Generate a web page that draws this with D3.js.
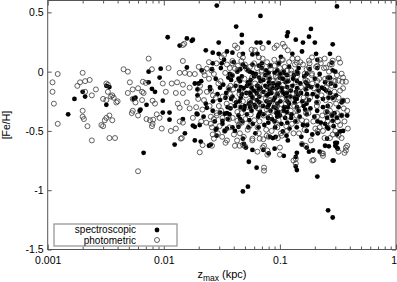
<!DOCTYPE html>
<html><head><meta charset="utf-8">
<script src="https://cdn.jsdelivr.net/npm/d3@7"></script>
<style>
body{margin:0;background:#fff}
svg{display:block}
text{font-family:"Liberation Sans",Arial,Helvetica,sans-serif;fill:#000}
</style>
</head><body>
<svg id="chart" width="397" height="282"></svg>
<script>
const xTicks = [0.001, 0.01, 0.1, 1];
const xTickLabels = ["0.001", "0.01", "0.1", "1"];
const yTicks = [0.5, 0, -0.5, -1, -1.5];
const yTickLabels = ["0.5", "0", "-0.5", "-1", "-1.5"];
const seriesNames = ["spectroscopic", "photometric"];

// [z_max (kpc), [Fe/H]]
const spectroscopic = [
[0.0017,-0.23],[0.002,-0.17],[0.0021,-0.21],[0.0015,-0.36],[0.0032,-0.28],[0.0032,-0.12],[0.0034,-0.13],[0.0055,-0.23],[0.0057,-0.22],[0.0062,-0.33],
[0.0108,0.29],[0.0137,0.22],[0.0158,0.28],[0.0174,0.26],[0.0178,0.27],[0.0297,0.245],[0.023,0.18],[0.0264,0.16],[0.0297,0.15],[0.035,0.17],
[0.0074,0.0],[0.0094,0.025],[0.0158,0.035],[0.0212,0.01],[0.0264,0.07],[0.0315,0.07],[0.0092,-0.05],[0.0074,-0.09],[0.02,-0.1],[0.0185,-0.1],
[0.0079,-0.145],[0.0084,-0.17],[0.025,-0.15],[0.0195,-0.15],[0.0305,-0.135],
[0.0071,-0.28],[0.0098,-0.245],[0.0063,-0.32],[0.0112,-0.405],[0.0098,-0.345],[0.0112,-0.345],[0.0146,-0.4],[0.0152,-0.52],[0.0124,-0.615],[0.0067,-0.685],
[0.0178,-0.455],[0.0185,-0.465],[0.0204,-0.45],[0.0185,-0.58],[0.0208,-0.59],[0.0245,-0.625],[0.0254,-0.615],[0.028,-0.49],[0.0285,-0.54],
[0.0192,-0.355],[0.0195,-0.36],[0.0235,-0.305],[0.0264,-0.33],[0.0305,-0.345],[0.0335,-0.355],[0.032,-0.415],[0.0355,-0.4],[0.0285,-0.48],[0.0335,-0.5],[0.035,-0.48],
[0.049,-0.61],[0.058,-0.66],[0.054,-0.76],[0.063,-0.81],[0.053,-0.97],[0.048,-1.01],[0.08,-0.69],[0.072,-0.66],[0.108,-0.71],[0.137,-0.72],[0.14,-0.685],
[0.137,-0.8],[0.14,-0.83],[0.21,-0.885],[0.26,-1.17],[0.285,-1.23],[0.29,-0.75],[0.22,-0.675],[0.193,-0.665],[0.178,-0.675],[0.155,-0.615],[0.17,-0.64],
[0.264,-0.63],[0.31,-0.64],[0.31,-0.6],
[0.039,-0.47],[0.044,-0.465],[0.051,-0.64],[0.048,-0.565],[0.09,-0.65],[0.117,-0.58],[0.106,-0.505],[0.114,-0.54],[0.082,-0.55],[0.087,-0.56],[0.092,-0.55],
[0.285,0.23],[0.27,0.15],[0.28,0.076],[0.285,0.01],[0.27,-0.05],[0.275,-0.1],[0.24,-0.145],[0.23,-0.135],[0.25,-0.16],
[0.235,-0.23],[0.285,-0.22],[0.34,-0.26],[0.35,-0.245],[0.31,-0.39],[0.285,-0.415],[0.28,-0.37],[0.255,-0.39],[0.34,-0.37],[0.38,-0.37],
[0.255,-0.47],[0.245,-0.44],[0.33,-0.505],[0.35,-0.5],[0.255,-0.565],[0.245,-0.625],[0.3,-0.6],[0.3,-0.625],[0.315,-0.65],[0.285,-0.75],
[0.0286,0.557],[0.31,0.55],[0.068,0.47],[0.042,0.38],[0.047,0.31],[0.047,0.245],[0.063,0.245],[0.068,0.245],[0.08,0.245],[0.117,0.33],[0.115,0.3],
[0.137,0.27],[0.185,0.36],[0.178,0.295],[0.155,0.17],[0.2,0.245],[0.102,0.125],[0.039,0.16],[0.048,0.15],[0.058,0.145],[0.064,0.15],[0.07,0.07],
[0.128,0.15],[0.205,0.15],[0.21,0.1],[0.048,0.06],[0.053,0.01],[0.058,-0.01],[0.076,0.01],[0.1,-0.017],[0.108,-0.01],[0.142,-0.017],[0.167,-0.09],
[0.039,-0.034],[0.057,-0.135],[0.064,-0.12],[0.082,-0.1],[0.158,0.245],
[0.021,-0.08],[0.0195,-0.2],[0.023,-0.27],[0.022,-0.38],
[0.026,0.02],[0.028,-0.06],[0.025,-0.13],[0.029,-0.19],[0.0265,-0.25],[0.0275,-0.42],
[0.033,0.1],[0.031,0.03],[0.036,-0.05],[0.0325,-0.11],[0.0345,-0.18],[0.0305,-0.24],[0.0355,-0.3],[0.032,-0.44],
[0.04,0.08],[0.043,0.0],[0.038,-0.07],[0.0415,-0.12],[0.0445,-0.16],[0.039,-0.21],[0.042,-0.26],[0.0375,-0.31],[0.044,-0.37],[0.041,-0.5],
[0.05,0.04],[0.047,-0.04],[0.053,-0.09],[0.0485,-0.14],[0.0515,-0.18],[0.046,-0.22],[0.054,-0.27],[0.049,-0.32],[0.052,-0.36],[0.0475,-0.42],[0.0535,-0.47],
[0.058,0.06],[0.062,-0.02],[0.056,-0.07],[0.064,-0.12],[0.0595,-0.16],[0.0565,-0.2],[0.0635,-0.24],[0.0605,-0.28],[0.057,-0.33],[0.065,-0.38],[0.0585,-0.44],[0.0615,-0.52],
[0.07,0.03],[0.075,-0.03],[0.068,-0.08],[0.078,-0.13],[0.072,-0.17],[0.0665,-0.21],[0.0765,-0.25],[0.0715,-0.29],[0.0675,-0.34],[0.079,-0.39],[0.0735,-0.45],
[0.083,0.05],[0.09,-0.01],[0.0815,-0.06],[0.0875,-0.1],[0.093,-0.14],[0.0845,-0.18],[0.0905,-0.22],[0.082,-0.26],[0.0885,-0.3],[0.0935,-0.35],[0.0855,-0.4],[0.091,-0.47],
[0.098,0.07],[0.108,0.0],[0.1,-0.05],[0.112,-0.09],[0.096,-0.13],[0.105,-0.17],[0.114,-0.21],[0.101,-0.25],[0.109,-0.3],[0.097,-0.34],[0.111,-0.39],[0.103,-0.44],
[0.12,0.04],[0.132,-0.03],[0.118,-0.08],[0.128,-0.12],[0.138,-0.17],[0.123,-0.21],[0.134,-0.26],[0.117,-0.3],[0.126,-0.36],[0.136,-0.42],[0.121,-0.48],
[0.145,0.03],[0.162,-0.04],[0.15,-0.1],[0.167,-0.15],[0.143,-0.2],[0.156,-0.25],[0.165,-0.32],[0.148,-0.38],[0.158,-0.45],[0.153,-0.55],
[0.18,0.02],[0.2,-0.06],[0.175,-0.12],[0.192,-0.19],[0.207,-0.26],[0.183,-0.31],[0.198,-0.38],[0.172,-0.45],[0.19,-0.53],
[0.22,-0.02],[0.245,-0.09],[0.215,-0.16],[0.235,-0.3],[0.255,-0.34],[0.225,-0.43],[0.212,-0.52],
[0.3,0.0],[0.27,-0.18],[0.32,-0.3],[0.29,-0.46],
[0.037,-0.02],[0.0365,-0.15],[0.038,-0.23],[0.0368,-0.36],
[0.0455,0.02],[0.0452,-0.08],[0.046,-0.13],[0.0448,-0.25],[0.0462,-0.3],[0.0455,-0.4],
[0.055,0.0],[0.0548,-0.1],[0.0552,-0.18],[0.0555,-0.3],[0.0545,-0.41],
[0.066,0.05],[0.0662,-0.05],[0.0658,-0.15],[0.0665,-0.26],[0.066,-0.36],[0.0655,-0.47],
[0.08,-0.01],[0.0805,-0.09],[0.0798,-0.19],[0.0802,-0.28],[0.0795,-0.43],
[0.095,0.01],[0.0945,-0.11],[0.0955,-0.19],[0.0952,-0.27],[0.0948,-0.38],
[0.115,-0.03],[0.1155,-0.13],[0.1148,-0.18],[0.116,-0.25],[0.1152,-0.34],[0.1158,-0.43],
[0.14,0.0],[0.1405,-0.08],[0.141,-0.14],[0.1395,-0.23],[0.1402,-0.3],[0.1398,-0.47],
[0.17,-0.02],[0.1705,-0.1],[0.171,-0.19],[0.1695,-0.27],[0.1702,-0.36],[0.17,-0.5],
[0.21,0.03],[0.2105,-0.12],[0.209,-0.21],[0.2095,-0.33],[0.211,-0.42],
[0.26,-0.05],[0.262,-0.22],[0.258,-0.29],[0.261,-0.48],
[0.3,-0.12],[0.305,-0.2],[0.295,-0.35],[0.31,-0.53],
[0.052,-0.12],[0.058,-0.22],[0.063,-0.18],[0.072,-0.07],[0.077,-0.2],[0.086,-0.14],[0.088,-0.24],[0.098,-0.1],[0.104,-0.14],[0.11,-0.19],
[0.124,-0.16],[0.13,-0.06],[0.134,-0.22],[0.152,-0.18],[0.16,-0.29],[0.178,-0.24],[0.186,-0.13],[0.072,-0.36],[0.083,-0.33],[0.062,-0.3],
[0.05,-0.29],[0.044,-0.06],[0.1,-0.37],[0.12,-0.27],[0.09,-0.42],[0.075,-0.12],[0.106,-0.06],[0.125,-0.39],[0.145,-0.33],[0.06,-0.04],
[0.068,-0.14],[0.093,-0.31],[0.108,-0.33],[0.082,-0.16],[0.078,-0.3],[0.056,-0.26],[0.047,-0.19],[0.041,-0.29],[0.035,-0.35],[0.034,-0.22]
];

const photometric = [
[0.00122,-0.02],[0.0011,-0.09],[0.0011,-0.17],[0.00113,-0.27],[0.00122,-0.44],
[0.002,-0.01],[0.0018,-0.12],[0.0019,-0.09],[0.0021,-0.08],[0.0023,-0.07],[0.0021,-0.17],[0.0026,-0.15],[0.0024,-0.2],[0.002,-0.33],[0.002,-0.38],
[0.00205,-0.4],[0.0022,-0.46],[0.003,-0.46],[0.0029,-0.45],[0.0031,-0.41],[0.0032,-0.39],[0.0034,-0.37],[0.0036,-0.41],[0.0032,-0.1],[0.0033,-0.11],
[0.0033,-0.17],[0.0035,-0.21],[0.0036,-0.2],[0.0037,-0.22],[0.003,-0.23],[0.0032,-0.24],[0.0039,-0.26],[0.004,-0.25],[0.0045,0.02],[0.0049,0.0],
[0.0051,-0.09],[0.0049,-0.18],[0.0054,-0.15],[0.006,-0.14],[0.0054,-0.33],[0.0053,-0.35],[0.0054,-0.23],[0.0057,-0.26],[0.0038,-0.56],[0.0034,-0.56],
[0.006,-0.37],[0.0024,-0.58],[0.006,-0.84],
[0.0074,0.11],[0.0146,0.09],[0.015,0.235],[0.0146,0.225],[0.0079,0.02],[0.011,0.03],[0.0137,-0.01],[0.0152,-0.01],[0.0167,-0.02],[0.0185,-0.02],
[0.0235,0.025],[0.0258,0.01],[0.0285,0.07],[0.033,0.14],[0.0066,-0.085],[0.007,-0.095],[0.0098,-0.1],[0.0117,-0.1],[0.013,-0.09],[0.0065,-0.17],
[0.0067,-0.18],[0.0104,-0.17],[0.0127,-0.18],[0.0146,-0.18],[0.0167,-0.135],[0.0146,-0.11],
[0.008,-0.245],[0.0084,-0.27],[0.0065,-0.24],[0.0071,-0.4],[0.0076,-0.41],[0.0081,-0.405],[0.0079,-0.46],[0.008,-0.44],[0.0096,-0.48],[0.0127,-0.48],
[0.0115,-0.5],[0.0092,-0.39],[0.0087,-0.36],[0.0146,-0.43],[0.0137,-0.42],[0.0143,-0.56],[0.014,-0.565],[0.0254,-0.44],[0.0216,-0.62],[0.0264,-0.53],
[0.027,-0.565],[0.0204,-0.68],[0.0132,-0.27],[0.0137,-0.305],[0.0158,-0.26],[0.0167,-0.31],[0.0178,-0.39],[0.0254,-0.38],[0.0285,-0.37],[0.032,-0.39],[0.035,-0.58],
[0.026,-0.625],[0.034,-0.6],[0.041,-0.625],[0.045,-0.625],[0.05,-0.63],[0.064,-0.675],[0.073,-0.81],[0.073,-0.835],[0.078,-0.665],[0.078,-0.7],
[0.073,-0.625],[0.1,-0.7],[0.137,-0.775],[0.137,-0.735],[0.195,-0.745],[0.37,-0.64],[0.36,-0.685],[0.32,-0.675],[0.235,-0.69],
[0.043,-0.415],[0.047,-0.43],[0.048,-0.615],[0.058,-0.565],[0.067,-0.565],[0.071,-0.64],[0.1,-0.64],[0.104,-0.54],[0.096,-0.56],[0.072,-0.57],
[0.077,-0.54],[0.131,-0.75],[0.155,-0.61],[0.167,-0.625],[0.19,-0.75],
[0.243,0.11],[0.22,0.1],[0.33,0.076],[0.32,0.11],[0.285,0.093],[0.28,0.06],[0.34,-0.017],[0.29,-0.076],[0.32,-0.076],[0.345,-0.085],[0.37,-0.085],
[0.35,-0.14],[0.35,-0.245],[0.38,-0.245],[0.38,-0.33],[0.385,-0.48],[0.25,0.034],[0.26,-0.06],[0.245,-0.06],[0.31,-0.35],[0.285,-0.37],[0.27,-0.33],
[0.25,-0.34],[0.235,-0.5],[0.32,-0.54],[0.34,-0.56],[0.285,-0.53],[0.27,-0.56],[0.38,-0.625],[0.37,-0.665],[0.23,-0.69],[0.235,-0.71],
[0.041,0.22],[0.043,0.2],[0.057,0.185],[0.061,0.18],[0.071,0.2],[0.09,0.2],[0.094,0.22],[0.106,0.235],[0.11,0.21],[0.117,0.18],[0.039,0.09],
[0.039,0.07],[0.045,0.14],[0.048,0.12],[0.066,0.12],[0.071,0.11],[0.082,0.05],[0.09,0.05],[0.097,0.07],[0.104,0.1],[0.106,0.1],[0.128,0.11],
[0.142,0.11],[0.14,0.076],[0.189,0.12],[0.178,0.093],[0.178,0.034],[0.21,0.05],[0.043,0.01],[0.041,0.025],[0.07,0.01],[0.065,-0.034],[0.126,-0.017],
[0.164,-0.017],[0.189,-0.017],[0.19,-0.1],
[0.02,0.04],[0.0225,-0.03],[0.0205,-0.12],[0.0235,-0.17],[0.0198,-0.23],[0.0215,-0.32],[0.0232,-0.43],
[0.0245,0.08],[0.027,-0.02],[0.0295,-0.1],[0.0255,-0.16],[0.028,-0.22],[0.0248,-0.29],[0.0285,-0.35],[0.026,-0.47],[0.0292,-0.52],
[0.0315,0.12],[0.035,0.06],[0.0338,-0.01],[0.0308,-0.08],[0.0362,-0.14],[0.0322,-0.21],[0.0348,-0.27],[0.0312,-0.33],[0.0365,-0.4],[0.0335,-0.5],[0.0318,-0.55],
[0.0435,0.05],[0.0385,-0.03],[0.0425,-0.1],[0.0395,-0.15],[0.0448,-0.19],[0.0405,-0.24],[0.0378,-0.29],[0.043,-0.34],[0.0392,-0.39],[0.0442,-0.45],[0.0402,-0.53],[0.0428,-0.58],
[0.0465,0.09],[0.052,0.02],[0.0495,-0.06],[0.0545,-0.11],[0.0458,-0.16],[0.051,-0.2],[0.048,-0.25],[0.0538,-0.3],[0.0468,-0.35],[0.0505,-0.4],[0.0528,-0.49],[0.0488,-0.55],
[0.0635,0.03],[0.0575,-0.05],[0.061,-0.1],[0.0655,-0.14],[0.0555,-0.18],[0.0625,-0.22],[0.059,-0.26],[0.0645,-0.31],[0.056,-0.36],[0.0602,-0.41],[0.0642,-0.47],[0.0578,-0.58],
[0.0775,0.08],[0.0695,0.0],[0.0745,-0.05],[0.0672,-0.1],[0.0785,-0.15],[0.0705,-0.19],[0.0755,-0.23],[0.0685,-0.27],[0.0772,-0.32],[0.0725,-0.37],[0.0668,-0.42],[0.0762,-0.49],
[0.0895,0.1],[0.0835,0.02],[0.092,-0.04],[0.0865,-0.08],[0.081,-0.12],[0.0895,-0.16],[0.0945,-0.2],[0.0838,-0.24],[0.0912,-0.28],[0.0862,-0.33],[0.0822,-0.38],[0.0925,-0.43],[0.0848,-0.5],
[0.11,0.04],[0.1015,-0.02],[0.0965,-0.07],[0.107,-0.11],[0.113,-0.15],[0.0985,-0.19],[0.1045,-0.23],[0.1125,-0.27],[0.0995,-0.31],[0.106,-0.36],[0.0975,-0.41],[0.1135,-0.46],[0.102,-0.52],
[0.135,0.06],[0.125,0.01],[0.116,-0.05],[0.137,-0.09],[0.122,-0.14],[0.13,-0.19],[0.119,-0.24],[0.133,-0.29],[0.124,-0.33],[0.139,-0.37],[0.127,-0.44],[0.131,-0.52],
[0.158,0.06],[0.142,-0.01],[0.166,-0.07],[0.152,-0.13],[0.144,-0.17],[0.16,-0.22],[0.147,-0.28],[0.168,-0.35],[0.155,-0.41],[0.163,-0.49],[0.146,-0.52],
[0.205,0.04],[0.188,-0.03],[0.172,-0.08],[0.196,-0.14],[0.182,-0.22],[0.208,-0.29],[0.176,-0.35],[0.194,-0.42],[0.202,-0.48],[0.185,-0.58],
[0.24,0.03],[0.218,-0.06],[0.252,-0.13],[0.228,-0.2],[0.212,-0.26],[0.248,-0.24],[0.232,-0.37],[0.258,-0.42],[0.22,-0.47],[0.242,-0.56],
[0.265,0.0],[0.31,-0.03],[0.28,-0.12],[0.33,-0.16],[0.29,-0.23],[0.27,-0.28],[0.315,-0.42],[0.3,-0.5],[0.275,-0.44],[0.34,-0.37],
[0.022,0.0],[0.0205,-0.17],[0.0222,-0.24],[0.021,-0.42],[0.019,-0.3],[0.0245,-0.06],[0.027,-0.4],[0.0298,-0.29],[0.0302,-0.46],[0.0265,-0.2],
[0.037,0.03],[0.0375,-0.12],[0.0372,-0.19],[0.0368,-0.47],[0.0458,-0.3],[0.0455,-0.43],[0.0452,-0.52],[0.055,-0.25],[0.0548,-0.46],[0.0552,0.04],
[0.066,-0.19],[0.0662,-0.31],[0.0658,-0.52],[0.0805,-0.05],[0.08,-0.24],[0.0795,-0.35],[0.0802,-0.55],[0.095,-0.05],[0.0955,-0.15],[0.0948,-0.29],[0.095,-0.47],
[0.115,0.01],[0.1155,-0.08],[0.1148,-0.22],[0.116,-0.38],[0.1152,-0.5],[0.14,-0.04],[0.1405,-0.19],[0.141,-0.33],[0.1395,-0.42],[0.17,0.02],[0.1705,-0.14],[0.171,-0.24],[0.1695,-0.42],
[0.21,-0.08],[0.2105,-0.17],[0.209,-0.38],[0.211,-0.5],[0.26,-0.1],[0.262,-0.17],[0.258,-0.35],[0.3,-0.08],[0.305,-0.27],[0.295,-0.17],[0.32,-0.22],[0.33,-0.45],[0.355,-0.31],[0.36,-0.42],[0.35,-0.05],
[0.18,0.07],[0.15,0.08],[0.12,0.08],[0.1,0.03],[0.07,0.05],[0.06,0.07],[0.05,0.06],[0.225,0.07],[0.27,0.06]
];

const L = 47.7, R = 396, T = 0.5, B = 249.5;
const svg = d3.select("#chart");
const x = d3.scaleLog().domain([0.001, 1]).range([L, R]);
const y = d3.scaleLinear().domain([-1.5, 0.6]).range([B, T]);
const axisColor = "#555";

// minor log ticks (2..9 within each decade)
const minor = [];
xTicks.slice(0, -1).forEach(d => { for (let k = 2; k <= 9; k++) minor.push(d * k); });

function styleAxis(g) {
  g.select(".domain").remove();
  g.selectAll(".tick line").attr("stroke", axisColor).attr("stroke-width", 1);
  g.selectAll(".tick text").style("font-size", "10.5px").attr("fill", "#000");
}

// points: spectroscopic (filled) first, photometric (open) on top
const plot = svg.append("g");
plot.selectAll("circle.spec").data(spectroscopic).join("circle")
  .attr("class", "spec")
  .attr("cx", d => x(d[0])).attr("cy", d => y(d[1])).attr("r", 2.4)
  .attr("fill", "#000");
plot.selectAll("circle.phot").data(photometric).join("circle")
  .attr("class", "phot")
  .attr("cx", d => x(d[0])).attr("cy", d => y(d[1])).attr("r", 2.5)
  .attr("fill", "none").attr("stroke", "#3a3a3a").attr("stroke-width", 0.8);

// bottom axis
const bottom = svg.append("g").attr("transform", `translate(0,${B})`)
  .call(d3.axisBottom(x).tickValues(xTicks).tickSizeInner(-5).tickSizeOuter(0).tickPadding(7)
    .tickFormat((d, i) => xTickLabels[i]))
  .call(styleAxis);
bottom.selectAll(".tick text").filter(d => d === 1).attr("text-anchor", "end").attr("x", 0.5);
svg.append("g").attr("transform", `translate(0,${B})`)
  .call(d3.axisBottom(x).tickValues(minor).tickSizeInner(-3).tickSizeOuter(0).tickFormat(""))
  .call(styleAxis);
// top axis
svg.append("g").attr("transform", `translate(0,${T})`)
  .call(d3.axisTop(x).tickValues(xTicks).tickSizeInner(-5).tickSizeOuter(0).tickFormat(""))
  .call(styleAxis);
svg.append("g").attr("transform", `translate(0,${T})`)
  .call(d3.axisTop(x).tickValues(minor).tickSizeInner(-3).tickSizeOuter(0).tickFormat(""))
  .call(styleAxis);
// left axis
svg.append("g").attr("transform", `translate(${L},0)`)
  .call(d3.axisLeft(y).tickValues(yTicks).tickSizeInner(-4).tickSizeOuter(0).tickPadding(4)
    .tickFormat((d, i) => yTickLabels[i]))
  .call(styleAxis);
// right axis
svg.append("g").attr("transform", `translate(${R},0)`)
  .call(d3.axisRight(y).tickValues(yTicks).tickSizeInner(-4).tickSizeOuter(0).tickFormat(""))
  .call(styleAxis);

// frame
svg.append("rect").attr("x", L).attr("y", T).attr("width", R - L).attr("height", B - T)
  .attr("fill", "none").attr("stroke", axisColor).attr("stroke-width", 1);

// axis titles
const xt = svg.append("text").attr("x", 222).attr("y", 278).attr("text-anchor", "middle")
  .style("font-size", "11px");
xt.append("tspan").text("z");
xt.append("tspan").attr("dy", 3).style("font-size", "8.5px").text("max");
xt.append("tspan").attr("dy", -3).text(" (kpc)");

svg.append("text").attr("transform", "translate(10,125) rotate(-90)")
  .attr("text-anchor", "middle").style("font-size", "10.5px").text("[Fe/H]");

// legend
const lg = svg.append("g");
lg.append("rect").attr("x", 54).attr("y", 224).attr("width", 123).attr("height", 22)
  .attr("fill", "#fff").attr("stroke", "#999").attr("stroke-width", 1.3);
lg.append("text").attr("x", 136).attr("y", 233).attr("text-anchor", "end")
  .style("font-size", "10px").text(seriesNames[0]);
lg.append("text").attr("x", 136).attr("y", 244).attr("text-anchor", "end")
  .style("font-size", "10px").text(seriesNames[1]);
lg.append("circle").attr("cx", 157).attr("cy", 230).attr("r", 2.4).attr("fill", "#000");
lg.append("circle").attr("cx", 157).attr("cy", 240).attr("r", 2.5)
  .attr("fill", "none").attr("stroke", "#3a3a3a").attr("stroke-width", 0.8);
</script>
</body></html>
